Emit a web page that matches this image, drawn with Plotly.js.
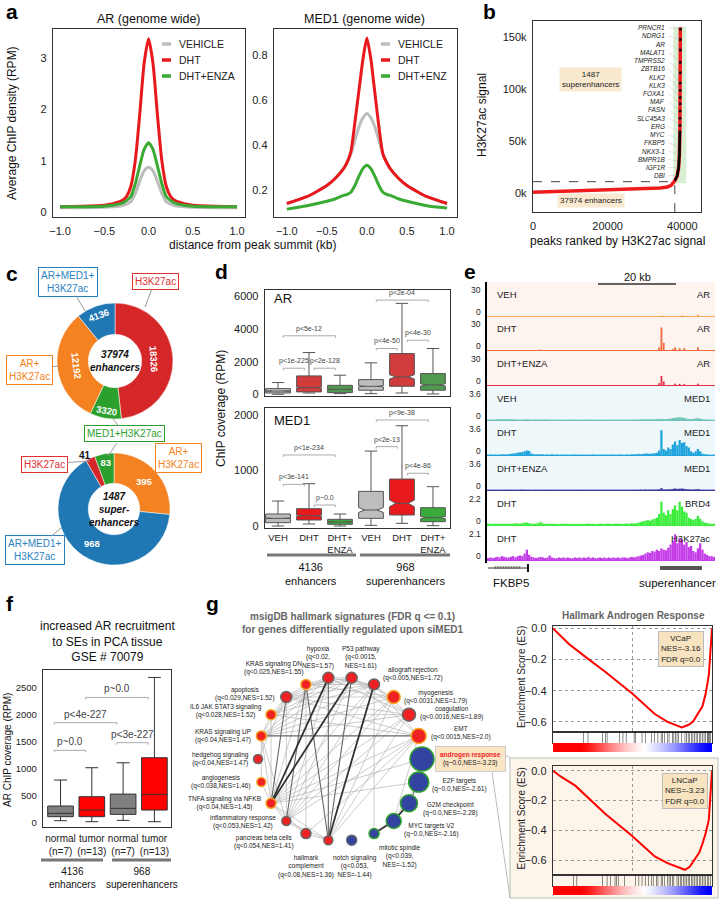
<!DOCTYPE html>
<html>
<head>
<meta charset="utf-8">
<script src="https://cdn.plot.ly/plotly-3.0.1.min.js"></script>
<style>body{margin:0;background:#fff} #fig{width:719px;height:900px}</style>
</head>
<body>
<div id="fig"></div>
<script>
// ---------------- data ----------------
// a: average ChIP profiles around peak summits
var profX = [-1.0, -0.75, -0.5, -0.4, -0.3, -0.25, -0.2, -0.15, -0.1, -0.05, 0, 0.05, 0.1, 0.15, 0.2, 0.25, 0.3, 0.4, 0.5, 0.75, 1.0];
var arVeh  = [0.08, 0.08, 0.09, 0.10, 0.12, 0.15, 0.20, 0.36, 0.60, 0.80, 0.87, 0.80, 0.60, 0.36, 0.20, 0.15, 0.12, 0.10, 0.09, 0.08, 0.08];
var arDht  = [0.10, 0.11, 0.13, 0.16, 0.22, 0.30, 0.50, 1.00, 1.90, 2.90, 3.38, 2.90, 1.90, 1.00, 0.50, 0.30, 0.22, 0.16, 0.13, 0.11, 0.10];
var arEnza = [0.10, 0.10, 0.11, 0.13, 0.17, 0.22, 0.30, 0.55, 0.90, 1.22, 1.35, 1.22, 0.90, 0.55, 0.30, 0.22, 0.17, 0.13, 0.11, 0.10, 0.10];
var med1Veh  = [0.14, 0.17, 0.22, 0.25, 0.29, 0.32, 0.36, 0.42, 0.48, 0.52, 0.54, 0.52, 0.48, 0.42, 0.36, 0.32, 0.29, 0.25, 0.22, 0.17, 0.14];
var med1Dht  = [0.14, 0.17, 0.22, 0.25, 0.29, 0.32, 0.37, 0.50, 0.64, 0.78, 0.875, 0.78, 0.63, 0.48, 0.36, 0.32, 0.29, 0.25, 0.22, 0.17, 0.14];
var med1Enza = [0.115, 0.13, 0.15, 0.16, 0.175, 0.18, 0.19, 0.22, 0.26, 0.295, 0.31, 0.295, 0.26, 0.22, 0.19, 0.18, 0.175, 0.16, 0.15, 0.13, 0.12];

// b: ranked H3K27ac signal
var seRank   = [0, 5000, 10000, 15000, 20000, 25000, 30000, 34000, 36000, 37000, 37974, 38600, 39000, 39200, 39350, 39420, 39461];
var seSignal = [300, 800, 1300, 1800, 2300, 2900, 3600, 4500, 5500, 7000, 11500, 16000, 24000, 36000, 60000, 100000, 160000];
var seGenes = ["PRNCR1", "NDRG1", "AR", "MALAT1", "TMPRSS2", "ZBTB16", "KLK2", "KLK3", "FOXA1", "MAF", "FASN", "SLC45A3", "ERG", "MYC", "FKBP5", "NKX3-1", "BMPR1B", "IGF1R", "DBI"];
var geneRank   = [39460, 39453, 39446, 39438, 39431, 39424, 39418, 39406, 39395, 39383, 39371, 39359, 39337, 39294, 39250, 39206, 39100, 39000, 38650];
var geneSignal = [158000, 148000, 138000, 126000, 116000, 106000, 99000, 92000, 86000, 79000, 72000, 65000, 58000, 51000, 44000, 37000, 30000, 24000, 17000];

// c: enhancer categories
var enhLabels = ["H3K27ac", "MED1+H3K27ac", "AR+H3K27ac", "AR+MED1+H3K27ac"];
var enhCounts = [18326, 3320, 12192, 4136];
var supLabels = ["AR+H3K27ac", "AR+MED1+H3K27ac", "H3K27ac", "MED1+H3K27ac"];
var supCounts = [395, 968, 41, 83];

// d: ChIP coverage box stats (VEH, DHT, DHT+ENZA at 4136 enhancers, then at 968 SEs)
var dCats = ["VEH", "DHT", "DHT+<br>ENZA", "VEH", "DHT", "DHT+<br>ENZA"];
var arLo  = [0, 80, 40, 40, 80, 20];
var arQ1  = [80, 145, 100, 250, 490, 250];
var arMed = [200, 410, 300, 490, 1070, 575];
var arQ3  = [350, 1130, 550, 900, 2500, 1270];
var arHi  = [720, 2560, 1170, 1930, 5580, 2810];
var arNotch = [10, 30, 15, 40, 130, 70];
var medLo  = [0, 36, 0, 12, 48, 6];
var medQ1  = [60, 108, 30, 138, 198, 78];
var medMed = [138, 186, 72, 288, 408, 150];
var medQ3  = [216, 312, 120, 624, 846, 330];
var medHi  = [450, 762, 216, 1350, 1806, 708];
var medNotch = [5, 10, 4, 45, 60, 20];
var arPvals  = [[0, 1, 1600, "p<1e-225"], [1, 2, 1600, "p<2e-128"], [0, 2, 3590, "p<5e-12"], [3, 4, 2810, "p<4e-50"], [4, 5, 3320, "p<4e-30"], [3, 5, 5780, "p<2e-04"]];
var medPvals = [[0, 1, 750, "p<3e-141"], [1, 2, 378, "p~0.0"], [0, 2, 1280, "p<1e-234"], [3, 4, 1430, "p<2e-13"], [4, 5, 950, "p<4e-86"], [3, 5, 1910, "p<9e-38"]];

// e: genome browser tracks around FKBP5 (100 bins)
var arVehPos = [76, 85, 92], arVehVal = [0.6, 0.8, 1.4];
var arDhtPos = [23, 75, 76, 77, 81, 82, 84, 86, 92], arDhtVal = [0.5, 3, 25, 8, 1, 3, 2, 2, 3];
var arEnzaPos = [75, 76, 77, 82, 84, 86, 92], arEnzaVal = [2, 10, 4, 1.5, 1.2, 1, 1.5];
var med1VehTrack = [.06,.08,.06,.08,.1,.12,.1,.12,.14,.1, .12,.1,.08,.06,.08,.06,.08,.1,.08,.06, .06,.08,.06,.05,.06,.08,.06,.05,.06,.05,
  .05,.06,.05,.06,.05,.05,.06,.05,.06,.05, .06,.05,.05,.06,.05,.06,.05,.05,.06,.05, .05,.06,.05,.05,.06,.05,.06,.05,.05,.06,
  .05,.06,.05,.06,.08,.06,.08,.1,.08,.1, .08,.1,.08,.1,.12,.1,.15,.12,.1,.15, .2,.25,.3,.35,.38,.32,.3,.2,.15,.12, .15,.2,.25,.18,.12,.08,.06,.06,.05,.05];
var med1DhtTrack = [.05,.08,.05,.08,.05,.08,.1,.08,.1,.1, .15,.2,.25,.3,.35,.4,.5,.6,.55,.2, .1,.08,.1,.1,.08,.05,.08,.05,.1,.05,
  .08,.05,.06,.05,.08,.05,.06,.05,.08,.05, .06,.05,.08,.05,.06,.05,.08,.05,.06,.05, .08,.05,.06,.05,.08,.05,.06,.05,.08,.05,
  .05,.08,.05,.1,.08,.1,.15,.1,.15,.2, .2,.15,.2,.25,.3,.6,3.3,.8,.6,1.0, .8,1.4,1.8,1.3,2.0,1.6,1.7,1.2,1.0,.5, .3,.5,.8,.5,.2,.1,.08,.05,.05,.05];
var med1EnzaTrack = [.05,.06,.05,.06,.05,.06,.05,.06,.05,.06, .06,.05,.06,.05,.06,.08,.06,.05,.06,.05, .05,.06,.05,.06,.05,.06,.05,.06,.05,.06,
  .05,.06,.05,.06,.05,.06,.05,.06,.05,.06, .05,.06,.05,.06,.05,.06,.05,.06,.05,.06, .05,.06,.05,.06,.05,.06,.05,.06,.05,.06,
  .05,.06,.05,.06,.05,.06,.06,.08,.06,.08, .06,.08,.06,.08,.08,.1,.25,.1,.08,.1, .12,.15,.2,.15,.18,.2,.15,.12,.1,.08, .08,.1,.12,.08,.06,.05,.05,.06,.05,.05];
var brd4Track = [.1,.12,.1,.12,.1,.12,.1,.1,.12,.1, .1,.12,.15,.12,.1,.15,.2,.2,.15,.1, .1,.12,.15,.25,.12,.1,.1,.12,.1,.1,
  .1,.08,.1,.1,.12,.1,.08,.1,.1,.08, .1,.1,.08,.1,.12,.1,.1,.08,.1,.1, .1,.1,.12,.1,.1,.1,.12,.1,.1,.1,
  .1,.12,.1,.15,.12,.15,.2,.25,.3,.35, .4,.35,.45,.5,.6,.9,1.9,1.0,.8,1.2, .9,1.3,1.6,1.2,1.9,1.5,1.1,1.0,.6,.5, .4,.5,.75,.5,.3,.2,.15,.12,.1,.1];
var h3k27acTrack = [.15,.2,.15,.2,.25,.2,.3,.25,.2,.2, .25,.3,.2,.3,.35,.3,.5,.8,.4,.25, .2,.15,.2,.25,.2,.15,.2,.35,.2,.15,
  .15,.2,.15,.2,.15,.2,.15,.15,.2,.15, .2,.15,.2,.15,.25,.15,.2,.15,.15,.2, .15,.2,.15,.2,.15,.2,.15,.2,.15,.2,
  .2,.15,.2,.25,.2,.25,.3,.35,.4,.5, .6,.55,.7,.65,.8,.7,.9,.8,.75,.95, 1.2,1.5,2.0,1.3,1.7,1.6,1.2,1.4,1.0,1.1, .7,.6,.9,1.3,.8,.5,.4,.3,.3,.25];

// f: AR ChIP in PCA tissue (GSE 70079)
var fCats = ["normal<br>(n=7)", "tumor<br>(n=13)", "normal<br>(n=7)", "tumor<br>(n=13)"];
var fLo  = [37, 18, 43, 18];
var fQ1  = [111, 111, 154, 234];
var fMed = [173, 234, 265, 524];
var fQ3  = [309, 481, 530, 1203];
var fHi  = [790, 1018, 1110, 2690];
var fPvals = [[0, 1, 1340, "p~0.0"], [0, 2, 1852, "p<4e-227"], [2, 3, 1482, "p<3e-227"], [1, 3, 2320, "p~0.0"]];

// g: hallmark network (clockwise from top)
var gNodes = ["P53 pathway", "allograft rejection", "myogenesis", "coagulation", "EMT", "androgen response", "E2F targets",
  "G2M checkpoint", "MYC targets V2", "mitotic spindle", "notch signaling", "hallmark complement", "pancreas beta cells",
  "inflammatory response", "TNFA signaling via NFKB", "angiogenesis", "hedgehog signaling", "KRAS signaling UP",
  "IL6 JAK STAT3 signaling", "apoptosis", "KRAS signaling DN", "hypoxia"];
var gLabels = ["P53 pathway<br>(q<0.0015,<br>NES=1.61)", "allograft rejection<br>(q<0.005,NES=1.72)", "myogenesis<br>(q<0.0031,NES=1.79)",
  "coagulation<br>(q<0.0016,NES=1.89)", "EMT<br>(q<0.0015,NES=2.0)", "androgen response<br>(q~0.0,NES=-3.23)",
  "E2F targets<br>(q~0.0,NES=-2.61)", "G2M checkpoint<br>(q~0.0,NES=-2.28)", "MYC targets V2<br>(q~0.0,NES=-2.16)",
  "mitotic spindle<br>(q<0.039,<br>NES=-1.52)", "notch signaling<br>(q<0.053,<br>NES=-1.44)", "hallmark<br>complement<br>(q<0.08,NES=1.36)",
  "pancreas beta cells<br>(q<0.054,NES=1.41)", "inflammatory response<br>(q<0.053,NES=1.42)", "TNFA signaling via NFKB<br>(q<0.04,NES=1.45)",
  "angiogenesis<br>(q<0.038,NES=1.46)", "hedgehog signaling<br>(q<0.04,NES=1.47)", "KRAS signaling UP<br>(q<0.04,NES=1.47)",
  "IL6 JAK STAT3 signaling<br>(q<0.028,NES=1.52)", "apoptosis<br>(q<0.029,NES=1.52)", "KRAS signaling DN<br>(q<0.025,NES=1.55)",
  "hypoxia<br>(q<0.02,<br>NES=1.57)"];
var gNes  = [1.61, 1.72, 1.79, 1.89, 2.0, -3.23, -2.61, -2.28, -2.16, -1.52, -1.44, 1.36, 1.41, 1.42, 1.45, 1.46, 1.47, 1.47, 1.52, 1.52, 1.55, 1.57];
var gSize = [11, 11, 13, 13, 15, 24, 20, 17, 15, 10, 10, 9, 10, 9, 10, 9, 9, 10, 10, 11, 10, 11];
var gRing = ["g", "g", "o", "g", "o", "n", "n", "n", "n", "n", "g", "g", "g", "g", "o", "o", "g", "o", "o", "g", "o", "g"];
var gEdges = [
  [0,14,3],[21,14,3],[1,11,3],[0,11,2],[21,11,2],[20,13,2],[19,14,2],[7,8,3],[8,9,3],[6,7,2],[6,8,1],[5,6,1],[4,17,2],[20,11,2],
  [0,19,1],[0,20,1],[0,21,1],[0,18,1],[0,13,1],[0,4,1],[0,3,1],[0,2,1],[0,17,1],
  [1,19,1],[1,20,1],[1,21,1],[1,14,1],[1,13,1],[1,18,1],[1,17,1],[1,4,1],[1,3,1],[1,9,1],
  [2,14,1],[2,13,1],[2,19,1],[2,20,1],[2,17,1],[2,11,1],
  [3,14,1],[3,13,1],[3,19,1],[3,21,1],[3,11,1],[3,17,1],[3,18,1],
  [4,14,1],[4,13,1],[4,19,1],[4,18,1],[4,12,1],[4,11,1],[4,8,1],
  [19,20,1],[19,21,1],[19,13,1],[19,18,1],[19,17,1],[20,21,1],[20,14,1],[20,12,1],
  [21,13,1],[21,17,1],[21,18,1],[14,13,1],[14,11,1],[14,12,1],[14,17,1],[14,18,1],[14,15,1],[14,5,1],[14,6,1],
  [13,11,1],[13,12,1],[13,17,1],[12,11,1],[18,17,1],[17,15,1],[16,19,1]
];

// g: GSEA hallmark androgen response
var vcapX  = [0, 0.05, 0.1, 0.2, 0.33, 0.5, 0.64, 0.72, 0.79, 0.81, 0.85, 0.88, 0.91, 0.94, 0.96, 0.98, 0.99, 1.0];
var vcapES = [0, -0.05, -0.10, -0.18, -0.28, -0.42, -0.55, -0.60, -0.63, -0.635, -0.62, -0.60, -0.55, -0.50, -0.42, -0.30, -0.15, 0.0];
var lncapX  = [0, 0.05, 0.14, 0.2, 0.33, 0.5, 0.64, 0.72, 0.8, 0.83, 0.86, 0.89, 0.92, 0.94, 0.96, 0.98, 0.99, 1.0];
var lncapES = [0, -0.04, -0.1, -0.16, -0.29, -0.44, -0.575, -0.62, -0.655, -0.665, -0.645, -0.60, -0.55, -0.49, -0.42, -0.33, -0.18, 0];
var vcapHits = [0.19,0.22,0.31,0.33,0.34,0.42,0.44,0.46,0.51,0.52,0.56,0.58,0.62,0.64,0.66,0.68,0.69,0.70,0.72,0.73,0.75,0.76,0.77,
  0.78,0.79,0.81,0.83,0.84,0.85,0.86,0.87,0.88,0.89,0.90,0.91,0.92,0.93,0.94,0.95,0.96,0.97,0.975,0.98,0.985,0.99];
var lncapHits = [0.13,0.15,0.31,0.34,0.36,0.39,0.40,0.41,0.45,0.52,0.54,0.56,0.58,0.60,0.62,0.63,0.65,0.66,0.68,0.69,0.70,0.72,0.73,
  0.74,0.75,0.76,0.78,0.79,0.80,0.81,0.82,0.83,0.84,0.85,0.86,0.87,0.88,0.89,0.90,0.91,0.92,0.93,0.94,0.95,0.96,0.97,0.98,0.99];
var rankMetric = [1, 1, 1, 1, 0.9, 0.75, 0.6, 0.45, 0.3, 0.18, 0.08, 0, -0.1, -0.2, -0.32, -0.45, -0.6, -0.75, -0.9, -1];

// ---------------- helpers ----------------
var W = 719, H = 900;
var F = "Liberation Sans, Arial, sans-serif";
function fx(p) { return p / W; }
function fy(p) { return Math.max(0, Math.min(1, 1 - p / H)); }

var traces = [];
var layout = {
  width: W, height: H,
  margin: { l: 0, r: 0, t: 0, b: 0 },
  paper_bgcolor: "white",
  plot_bgcolor: "rgba(0,0,0,0)",
  font: { family: F, size: 10, color: "#222" },
  showlegend: false,
  annotations: [],
  shapes: []
};

function axis(n, x0, x1, y0, y1, xo, yo) {
  var s = n === 1 ? "" : n;
  var base = { showgrid: false, zeroline: false, showline: false, ticks: "", showticklabels: false, fixedrange: true };
  layout["xaxis" + s] = Object.assign({}, base, { domain: [fx(x0), fx(x1)], anchor: "y" + s }, xo || {});
  layout["yaxis" + s] = Object.assign({}, base, { domain: [fy(y1), fy(y0)], anchor: "x" + s }, yo || {});
}
var frame = { showline: true, mirror: true, linecolor: "#333", linewidth: 1.3 };
function fr(o) { return Object.assign({}, frame, o); }

function note(x, y, text, o) {
  layout.annotations.push(Object.assign({ xref: "paper", yref: "paper", x: fx(x), y: fy(y), text: text,
    showarrow: false, xanchor: "center", yanchor: "middle", font: { size: 10, color: "#222" } }, o || {}));
}
function dnote(n, x, y, text, o) {
  layout.annotations.push(Object.assign({ xref: "x" + n, yref: "y" + n, x: x, y: y, text: text,
    showarrow: false, xanchor: "center", yanchor: "middle", font: { size: 10, color: "#222" } }, o || {}));
}
function line(x0, y0, x1, y1, color, width, o) {
  layout.shapes.push(Object.assign({ type: "line", xref: "paper", yref: "paper", x0: fx(x0), y0: fy(y0), x1: fx(x1), y1: fy(y1),
    line: { color: color || "#333", width: width || 1 } }, o || {}));
}
function rect(x0, y0, x1, y1, fill, border) {
  layout.shapes.push({ type: "rect", xref: "paper", yref: "paper", x0: fx(x0), y0: fy(y1), x1: fx(x1), y1: fy(y0),
    fillcolor: fill, line: { color: border || "rgba(0,0,0,0)", width: border ? 1 : 0 }, layer: "below" });
}
function bracket(n, x0, x1, y, h, label, fs) {
  layout.shapes.push({ type: "path", xref: "x" + n, yref: "y" + n,
    path: "M" + x0 + "," + (y - h) + " L" + x0 + "," + y + " L" + x1 + "," + y + " L" + x1 + "," + (y - h),
    line: { color: "#aaa", width: 1 } });
  dnote(n, (x0 + x1) / 2, y, label, { yanchor: "bottom", yshift: 1, font: { size: fs, color: "#444" } });
}

// panel letters
[["a", 4, 11], ["b", 481, 12], ["c", 4, 273], ["d", 213, 272], ["e", 462, 272], ["f", 4, 603], ["g", 204, 603]].forEach(function (p) {
  note(p[1], p[2], "<b>" + p[0] + "</b>", { xanchor: "left", font: { size: 21, color: "#000" } });
});

// ---------------- a ----------------
var tickA = { showticklabels: true, tickfont: { size: 11 }, ticklabelstandoff: 3 };
axis(1, 53, 245, 29, 217,
  fr(Object.assign({ range: [-1.08, 1.09], tickvals: [-1, -0.5, 0, 0.5, 1], ticktext: ["−1.0", "−0.5", "0.0", "0.5", "1.0"] }, tickA)),
  fr(Object.assign({ range: [-0.1, 3.57], tickvals: [0, 1, 2, 3] }, tickA)));
axis(2, 274, 457, 29, 217,
  fr(Object.assign({ range: [-1.16, 1.125], tickvals: [-1, -0.5, 0, 0.5, 1], ticktext: ["−1.0", "−0.5", "0.0", "0.5", "1.0"] }, tickA)),
  fr(Object.assign({ range: [0.08, 0.915], tickvals: [0.2, 0.4, 0.6, 0.8] }, tickA)));
var profColors = ["#bdbdbd", "#e8191c", "#3aaa35"];
[[arVeh, arDht, arEnza, ""], [med1Veh, med1Dht, med1Enza, "2"]].forEach(function (set) {
  for (var i = 0; i < 3; ++i) {
    traces.push({ x: profX, y: set[i], xaxis: "x" + set[3], yaxis: "y" + set[3], mode: "lines", hoverinfo: "skip",
      line: { color: profColors[i], width: 3, shape: "spline", smoothing: 0.6 } });
  }
});
note(149, 19, "AR (genome wide)", { font: { size: 12.5, color: "#111" } });
note(365, 19, "MED1 (genome wide)", { font: { size: 12.5, color: "#111" } });
note(252, 245, "distance from peak summit (kb)", { font: { size: 12, color: "#111" } });
note(12, 123, "Average ChIP density (RPM)", { textangle: -90, font: { size: 12, color: "#111" } });
[["VEHICLE", "DHT", "DHT+ENZA", 162], ["VEHICLE", "DHT", "DHT+ENZ", 381]].forEach(function (lg) {
  for (var i = 0; i < 3; ++i) {
    var yy = 44 + i * 16;
    line(lg[3], yy, lg[3] + 9, yy, profColors[i], 3.5);
    note(lg[3] + 15, yy, lg[i], { xanchor: "left", font: { size: 10.5, color: "#222" } });
  }
});

// ---------------- b ----------------
axis(3, 533, 701, 21, 212,
  fr(Object.assign({ range: [0, 45000], tickvals: [0, 20000, 40000], ticktext: ["0", "20000", "40000"] }, tickA)),
  fr(Object.assign({ range: [-18700, 166000], tickvals: [0, 50000, 100000, 150000], ticktext: ["0k", "50k", "100k", "150k"] }, tickA)));
layout.shapes.push({ type: "rect", xref: "x3", yref: "y3", x0: 37600, x1: 41070, y0: 9000, y1: 160700,
  fillcolor: "rgba(150,205,130,0.35)", line: { width: 0 }, layer: "below" });
layout.shapes.push({ type: "line", xref: "x3", yref: "y3", x0: 0, x1: 37974, y0: 10600, y1: 10600, line: { color: "#666", width: 1.2, dash: "dash" } });
layout.shapes.push({ type: "line", xref: "x3", yref: "y3", x0: 37974, x1: 37974, y0: -18700, y1: 10600, line: { color: "#666", width: 1.2, dash: "dash" } });
seGenes.forEach(function (g, i) {
  var ly = 159500 - i * 7950;
  layout.shapes.push({ type: "line", xref: "x3", yref: "y3", x0: 36300, y0: ly, x1: geneRank[i], y1: geneSignal[i],
    line: { color: "rgba(150,150,150,0.5)", width: 0.5 } });
  dnote(3, 36000, ly, "<i>" + g + "</i>", { xanchor: "right", font: { size: 6.5, color: "#222" } });
});
traces.push({ x: seRank, y: seSignal, xaxis: "x3", yaxis: "y3", mode: "lines", hoverinfo: "skip", line: { color: "#ee1c1c", width: 3.5 } });
traces.push({ x: seRank.slice(10, 15), y: seSignal.slice(10, 15), xaxis: "x3", yaxis: "y3", mode: "lines", hoverinfo: "skip", line: { color: "#000", width: 2.5 } });
traces.push({ x: geneRank, y: geneSignal, xaxis: "x3", yaxis: "y3", mode: "markers", hoverinfo: "skip",
  marker: { symbol: "square", size: 2.5, color: "#000", opacity: 1 } });
dnote(3, 15500, 109000, "1487<br>superenhancers", { bgcolor: "#f8e9d0", borderpad: 2, font: { size: 8, color: "#222" } });
dnote(3, 15500, -7700, "37974 enhancers", { bgcolor: "#f8e9d0", borderpad: 2, font: { size: 8, color: "#222" } });
note(482, 115, "H3K27ac signal", { textangle: -90, font: { size: 12, color: "#111" } });
note(617, 241, "peaks ranked by H3K27ac signal", { font: { size: 12, color: "#111" } });

// ---------------- c ----------------
var catColors = { "H3K27ac": "#d62728", "MED1+H3K27ac": "#2ca02c", "AR+H3K27ac": "#f58220", "AR+MED1+H3K27ac": "#1f77b4" };
traces.push({ type: "pie", labels: enhLabels, values: enhCounts, hole: 0.46, sort: false, direction: "clockwise", rotation: 0,
  domain: { x: [fx(57), fx(173)], y: [fy(419), fy(303)] }, marker: { colors: enhLabels.map(function (l) { return catColors[l]; }), line: { color: "white", width: 0.5 } },
  texttemplate: "<b>%{value:.0f}</b>", textposition: "inside", insidetextorientation: "tangential", textfont: { color: "white", size: 9.5 }, hoverinfo: "skip" });
traces.push({ type: "pie", labels: supLabels, values: supCounts, hole: 0.46, sort: false, direction: "clockwise", rotation: 0,
  domain: { x: [fx(58), fx(170)], y: [fy(565), fy(453)] }, marker: { colors: supLabels.map(function (l) { return catColors[l]; }), line: { color: "white", width: 0.5 } },
  texttemplate: ["<b>%{value:.0f}</b>", "<b>%{value:.0f}</b>", "", "<b>%{value:.0f}</b>"], textposition: "inside", insidetextorientation: "horizontal",
  textfont: { color: "white", size: 9.5 }, hoverinfo: "skip" });
note(115, 361, "<b><i>37974<br>enhancers</i></b>", { font: { size: 10, color: "#111" } });
note(114, 509, "<b><i>1487<br>super-<br>enhancers</i></b>", { font: { size: 10, color: "#111" } });
function callout(px, py, bx, by, text, color) {
  note(px, py, text, { showarrow: true, arrowhead: 0, arrowwidth: 1, arrowcolor: "#999", ax: bx - px, ay: by - py,
    bgcolor: "white", bordercolor: color, borderwidth: 1, borderpad: 2, font: { size: 10, color: color } });
}
callout(85, 311, 68, 282, "AR+MED1+<br>H3K27ac", "#2a7fc0");
callout(145, 307, 155, 281, "H3K27ac", "#e03030");
callout(58, 366, 30, 370, "AR+<br>H3K27ac", "#f58220");
callout(113, 419, 125, 434, "MED1+H3K27ac", "#2ca02c");
line(117, 443, 108, 456, "#999", 1);
callout(90, 461, 44, 464, "H3K27ac", "#e03030");
callout(157, 473, 178, 458, "AR+<br>H3K27ac", "#f58220");
callout(61, 528, 35, 550, "AR+MED1+<br>H3K27ac", "#2a7fc0");
note(85, 455, "<b>41</b>", { font: { size: 10, color: "#111" } });

// ---------------- d ----------------
axis(4, 265, 450, 290, 396, fr({ range: [-0.42, 5.55] }),
  fr(Object.assign({ range: [-105, 6400], tickvals: [0, 2000, 4000, 6000] }, tickA)));
axis(5, 265, 450, 408, 528,
  fr(Object.assign({ range: [-0.42, 5.55], tickvals: [0, 1, 2, 3, 4, 5], ticktext: dCats }, tickA, { tickfont: { size: 9.5 }, tickangle: 0, ticklabelstandoff: 0 })),
  fr(Object.assign({ range: [-36, 2126], tickvals: [0, 1000, 2000] }, tickA)));
var dTop = ["#bdbdbd", "#d13b3b", "#4f9a4f"], dBot = ["#bdbdbd", "#e8191c", "#3aaa3a"];
for (var i = 0; i < 6; ++i) {
  traces.push({ type: "box", x: [i], q1: [arQ1[i]], median: [arMed[i]], q3: [arQ3[i]], lowerfence: [arLo[i]], upperfence: [arHi[i]],
    notched: true, notchspan: [arNotch[i]], width: 0.8, whiskerwidth: 0.5, boxpoints: false, fillcolor: dTop[i % 3],
    line: { color: "#555", width: 1 }, xaxis: "x4", yaxis: "y4", hoverinfo: "skip" });
  traces.push({ type: "box", x: [i], q1: [medQ1[i]], median: [medMed[i]], q3: [medQ3[i]], lowerfence: [medLo[i]], upperfence: [medHi[i]],
    notched: true, notchspan: [medNotch[i]], width: 0.8, whiskerwidth: 0.5, boxpoints: false, fillcolor: dBot[i % 3],
    line: { color: "#555", width: 1 }, xaxis: "x5", yaxis: "y5", hoverinfo: "skip" });
}
arPvals.forEach(function (p) { bracket(4, p[0] + 0.17, p[1] - 0.15, p[2], 125, p[3], 7); });
medPvals.forEach(function (p) { bracket(5, p[0] + 0.17, p[1] - 0.15, p[2], 36, p[3], 7); });
note(272, 298, "AR", { xanchor: "left", font: { size: 13, color: "#111" } });
note(272, 420, "MED1", { xanchor: "left", font: { size: 13, color: "#111" } });
note(221, 409, "ChIP coverage (RPM)", { textangle: -90, font: { size: 12, color: "#111" } });
line(267, 555, 356, 555, "#777", 3);
line(360, 555, 450, 555, "#777", 3);
note(311, 574, "4136<br>enhancers", { font: { size: 11, color: "#111" } });
note(405, 574, "968<br>superenhancers", { font: { size: 11, color: "#111" } });

// ---------------- e ----------------
var eBins = h3k27acTrack.map(function (v, i) { return i; });
var eTracks = [
  [arVehPos, arVehVal, 30, "#f5a55a", "VEH", "AR"],
  [arDhtPos, arDhtVal, 30, "#f26a3d", "DHT", "AR"],
  [arEnzaPos, arEnzaVal, 30, "#e8304a", "DHT+ENZA", "AR"],
  [eBins, med1VehTrack, 3.6, "#6cc3b5", "VEH", "MED1"],
  [eBins, med1DhtTrack, 3.6, "#1fa3dc", "DHT", "MED1"],
  [eBins, med1EnzaTrack, 3.6, "#3b3b9e", "DHT+ENZA", "MED1"],
  [eBins, brd4Track, 2.2, "#3cee3c", "DHT", "BRD4"],
  [eBins, h3k27acTrack, 2.1, "#c43de8", "DHT", "H3K27ac"]
];
var eBase = [316, 350, 385, 420, 455, 490, 525, 560];
rect(487, 282, 715, 385, "#fdf3ef");
rect(487, 385, 715, 490, "#eef7fa");
eTracks.forEach(function (t, k) {
  var n = 6 + k;
  axis(n, 487, 715, eBase[k] - 27, eBase[k],
    { range: [-0.5, 99.5], showline: true, linecolor: t[3], linewidth: 1.2 },
    { range: [0, t[2]] });
  traces.push({ type: "bar", x: t[0], y: t[1], width: t[0] === eBins ? 1 : 0.8, xaxis: "x" + n, yaxis: "y" + n,
    marker: { color: t[3], line: { width: 0 } }, hoverinfo: "skip" });
  note(483, eBase[k] - 26, String(t[2]), { xanchor: "right", font: { size: 8.5, color: "#222" } });
  note(483, eBase[k] - 4, "0", { xanchor: "right", font: { size: 8.5, color: "#222" } });
  note(495, eBase[k] - 22, t[4], { xanchor: "left", font: { size: 9.5, color: "#222" } });
  note(712, eBase[k] - 22, t[5], { xanchor: "right", font: { size: 9.5, color: "#222" } });
});
line(486, 282, 486, 563, "#000", 2);
line(598, 284, 676, 284, "#333", 1.5);
note(637, 277, "20 kb", { font: { size: 11, color: "#111" } });
line(488, 568, 528, 568, "#333", 1);
line(528, 564, 528, 572, "#111", 2);
note(507, 567.5, "‹‹‹‹‹‹‹‹‹‹", { font: { size: 8, color: "#333" } });
note(511, 583, "FKBP5", { font: { size: 11.5, color: "#111" } });
line(660, 568, 702, 568, "#555", 4);
note(677, 583, "superenhancer", { font: { size: 11.5, color: "#111" } });

// ---------------- f ----------------
axis(14, 43, 171, 670, 827,
  fr(Object.assign({ range: [-0.56, 3.53], tickvals: [0, 1, 2, 3], ticktext: fCats }, tickA, { tickfont: { size: 10 }, tickangle: 0, ticklabelstandoff: 2 })),
  fr(Object.assign({ range: [-80, 2828], tickvals: [0, 500, 1000, 1500, 2000, 2500] }, tickA, { tickfont: { size: 9.5 } })));
for (var j = 0; j < 4; ++j) {
  traces.push({ type: "box", x: [j], q1: [fQ1[j]], median: [fMed[j]], q3: [fQ3[j]], lowerfence: [fLo[j]], upperfence: [fHi[j]],
    width: 0.82, whiskerwidth: 0.5, boxpoints: false, fillcolor: j % 2 ? "#ff0000" : "#808080",
    line: { color: "#333", width: 1 }, xaxis: "x14", yaxis: "y14", hoverinfo: "skip" });
}
fPvals.forEach(function (p) { bracket(14, p[0] - 0.2, p[1] - 0.2, p[2], 37, p[3], 10); });
note(107, 641, "increased AR recruitment<br>to SEs in PCA tissue<br>GSE # 70079", { font: { size: 12, color: "#111" } });
note(7, 750, "AR ChIP coverage (RPM)", { textangle: -90, font: { size: 10, color: "#111" } });
line(41, 860, 103, 860, "#777", 3);
line(112, 860, 171, 860, "#777", 3);
note(72, 878, "4136<br>enhancers", { font: { size: 10, color: "#111" } });
note(142, 878, "968<br>superenhancers", { font: { size: 10, color: "#111" } });

// ---------------- g: network ----------------
axis(15, 230, 520, 640, 900, { range: [230, 520] }, { range: [900, 640] });
var gCx = 340, gCy = 759, gR = 82;
var gX = gNodes.map(function (_, k) { return gCx + gR * Math.sin((k + 0.5) * 2 * Math.PI / gNodes.length); });
var gY = gNodes.map(function (_, k) { return gCy - gR * Math.cos((k + 0.5) * 2 * Math.PI / gNodes.length); });
var edgeStyle = { 1: ["#aaa", 0.6], 2: ["#666", 1.1], 3: ["#333", 1.8] };
[1, 2, 3].forEach(function (w) {
  var ex = [], ey = [];
  gEdges.forEach(function (e) {
    if (e[2] !== w) return;
    ex.push(gX[e[0]], gX[e[1]], null);
    ey.push(gY[e[0]], gY[e[1]], null);
  });
  traces.push({ x: ex, y: ey, xaxis: "x15", yaxis: "y15", mode: "lines", hoverinfo: "skip",
    line: { color: edgeStyle[w][0], width: edgeStyle[w][1] } });
});
var ringColor = { g: "#666", o: "#f5a623", n: "#2ca02c" };
traces.push({ x: gX, y: gY, xaxis: "x15", yaxis: "y15", mode: "markers", hoverinfo: "skip",
  marker: { size: gSize, opacity: 1, color: gNes.map(function (v) { return v > 0 ? "#ee2222" : "#3344a0"; }),
    line: { color: gRing.map(function (r) { return ringColor[r]; }), width: 1.5 } } });
// label placement around the ring: [dx, dy, xanchor, yanchor]
var gLab = [[9, -6, "center", "bottom"], [7, -10, "left", "middle"], [8, 0, "left", "middle"], [9, -2, "left", "middle"],
  [10, -3, "left", "middle"], [13, 0, "left", "middle"], [11, 3, "left", "middle"], [12, 6, "left", "middle"],
  [8, 9, "left", "middle"], [26, 8, "center", "top"], [3, 12, "center", "top"], [-22, 12, "center", "top"],
  [-10, 8, "right", "middle"], [-8, 1, "right", "middle"], [-8, 0, "right", "middle"], [-8, 0, "right", "middle"],
  [-7, 0, "right", "middle"], [-8, 0, "right", "middle"], [-7, -4, "right", "middle"], [-9, -3, "right", "middle"],
  [-32, -6, "center", "bottom"], [-10, -6, "center", "bottom"]];
gLabels.forEach(function (lab, k) {
  var o = { xanchor: gLab[k][2], yanchor: gLab[k][3], font: { size: 6.5, color: "#222" } };
  if (k === 5) {
    lab = "<b><span style='color:#ee2222'>androgen response</span></b><br>(q~0.0,NES=-3.23)";
    o.bgcolor = "#fbe5c5"; o.bordercolor = "#ccc"; o.borderwidth = 1; o.borderpad = 4;
  }
  dnote(15, gX[k] + gLab[k][0], gY[k] + gLab[k][1], lab, o);
});
note(353, 623, "<b>msigDB hallmark signatures (FDR q <= 0.1)<br>for genes differentially regulated upon siMED1</b>",
  { font: { size: 10, color: "#666" } });

// ---------------- g: GSEA ----------------
rect(510, 758, 718, 898, "#fdf5ea", "#bbb");
line(492, 746, 510, 758, "#bbb", 1);
line(492, 772, 510, 898, "#bbb", 1);
var esY = { showticklabels: true, tickfont: { size: 11 }, ticklabelstandoff: 3, showgrid: true, gridcolor: "#999", griddash: "dot", gridwidth: 1,
  tickvals: [-0.2, -0.4, -0.6, 0], ticktext: ["−0.2", "−0.4", "−0.6", "0.0"] };
var esX = { range: [0, 1], tickvals: [0.5], showgrid: true, gridcolor: "#999", griddash: "dot", gridwidth: 1 };
[[16, 626, 732, 0.015, -0.665, vcapX, vcapES, vcapHits], [19, 766, 875, 0.032, -0.70, lncapX, lncapES, lncapHits]].forEach(function (g) {
  var n = g[0];
  axis(n, 553, 712, g[1], g[2], fr(esX), fr(Object.assign({ range: [g[4], g[3]] }, esY)));
  axis(n + 1, 553, 712, g[2], g[2] + 11, fr({ range: [0, 1] }), fr({ range: [0, 1] }));
  axis(n + 2, 553, 712, g[2] + 11, g[2] + 20, { range: [-0.5, rankMetric.length - 0.5] }, { range: [-0.5, 0.5] });
  traces.push({ x: g[5], y: g[6], xaxis: "x" + n, yaxis: "y" + n, mode: "lines", hoverinfo: "skip", line: { color: "#ff0000", width: 2 } });
  traces.push({ type: "bar", x: g[7], y: g[7].map(function () { return 1; }), width: 0.003, xaxis: "x" + (n + 1), yaxis: "y" + (n + 1),
    marker: { color: "#111", line: { width: 0 } }, hoverinfo: "skip" });
  traces.push({ type: "heatmap", z: [rankMetric], zmin: -1, zmax: 1, zsmooth: "best", showscale: false, hoverinfo: "skip",
    colorscale: [[0, "#0000ff"], [0.5, "#ffffff"], [1, "#ff0000"]], xaxis: "x" + (n + 2), yaxis: "y" + (n + 2) });
  note(521, (g[1] + g[2]) / 2 - 2, "Enrichment Score (ES)", { textangle: -90, font: { size: 10, color: "#222" } });
});
note(633, 615, "<b>Hallmark Androgen Response</b>", { font: { size: 10, color: "#666" } });
note(681, 649, "VCaP<br>NES=-3.16<br>FDR q=0.0", { bgcolor: "#f7e3c0", bordercolor: "#bbb", borderwidth: 1, borderpad: 2, font: { size: 8, color: "#222" } });
note(685, 791, "LNCaP<br>NES=-3.23<br>FDR q=0.0", { bgcolor: "#f7e3c0", bordercolor: "#bbb", borderwidth: 1, borderpad: 2, font: { size: 8, color: "#222" } });

Plotly.newPlot("fig", traces, layout, { staticPlot: true });
</script>
</body>
</html>
